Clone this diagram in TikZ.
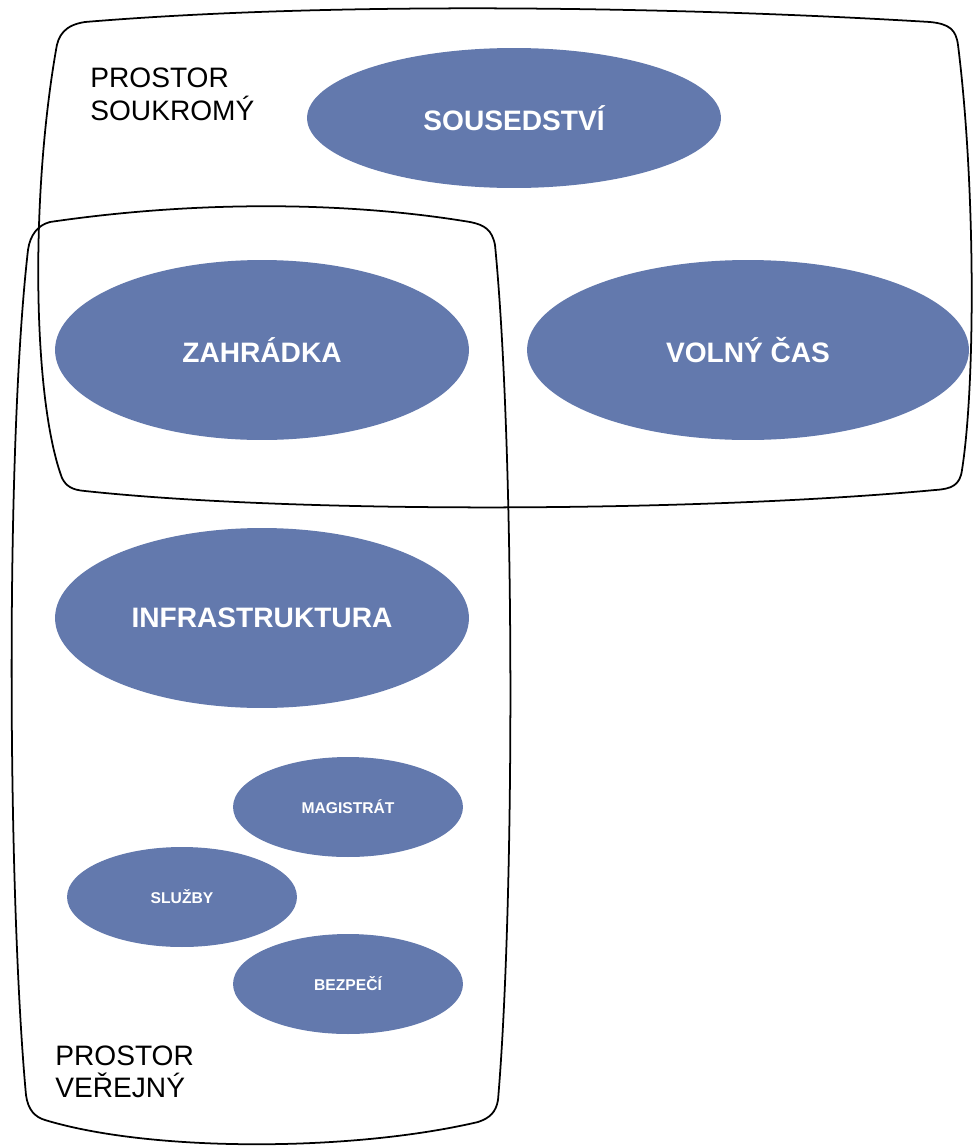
\documentclass[tikz,border=0pt]{standalone}
\usepackage{fontspec}
\setmainfont{Liberation Sans}
\usepackage{xcolor}
\usetikzlibrary{shapes.geometric}

\begin{document}
\begin{tikzpicture}[x=0.02cm,y=-0.02cm,
  frame/.style={line width=1pt,black},
  bubble/.style={ellipse,fill=slateblue,text=white,inner sep=0pt,
    font=\bfseries\fontsize{16}{19}\selectfont,minimum width=8.28cm,minimum height=3.6cm},
  smallbubble/.style={bubble,font=\bfseries\fontsize{8.9}{11}\selectfont,minimum width=4.6cm,minimum height=2cm},
  caption/.style={anchor=base west,inner sep=0pt,font=\fontsize{16}{19}\selectfont}]
\definecolor{slateblue}{RGB}{99,121,173}
\fill[white] (0,0) rectangle (973,1146);
\useasboundingbox (0,0) rectangle (973,1146);
% prostor soukromy
\draw[frame] (85,22) .. controls (350,0) and (700,8) .. (930,22)
  .. controls (950,24) and (956,30) .. (958,45)
  .. controls (975,180) and (976,380) .. (962,470)
  .. controls (960,485) and (952,489) .. (935,490)
  .. controls (700,512) and (300,514) .. (85,491)
  .. controls (72,490) and (66,486) .. (62,478)
  .. controls (33,400) and (30,200) .. (56,50)
  .. controls (58,35) and (65,25) .. cycle;
% prostor verejny
\draw[frame] (50,222) .. controls (200,200) and (350,202) .. (470,222)
  .. controls (485,225) and (492,230) .. (495,245)
  .. controls (515,450) and (515,900) .. (498,1100)
  .. controls (496,1112) and (490,1118) .. (478,1122)
  .. controls (350,1152) and (150,1152) .. (45,1120)
  .. controls (35,1117) and (28,1110) .. (26,1095)
  .. controls (8,900) and (5,450) .. (28,250)
  .. controls (30,235) and (38,225) .. cycle;
\node[caption] (soukr1) at (90,87) {PROSTOR};
\node[caption] (soukr2) at (90,120) {SOUKROMÝ};
\node[caption] (verej1) at (55,1065) {PROSTOR};
\node[caption] (verej2) at (55,1097) {VEŘEJNÝ};
\node[bubble,minimum height=2.8cm] (sousedstvi) at (514,118) {SOUSEDSTVÍ};
\node[bubble] (zahradka) at (262,350) {ZAHRÁDKA};
\node[bubble,minimum width=8.84cm] (volnycas) at (748,350) {VOLNÝ ČAS};
\node[bubble] (infra) at (262,618) {INFRASTRUKTURA};
  \foreach \nm/\txt/\xx/\yy in {magistrat/MAGISTRÁT/348/807,sluzby/SLUŽBY/182/897,bezpeci/BEZPEČÍ/348/984}
  {  \node[smallbubble] (\nm) at (\xx,\yy) {\txt};}
\end{tikzpicture}
\end{document}
